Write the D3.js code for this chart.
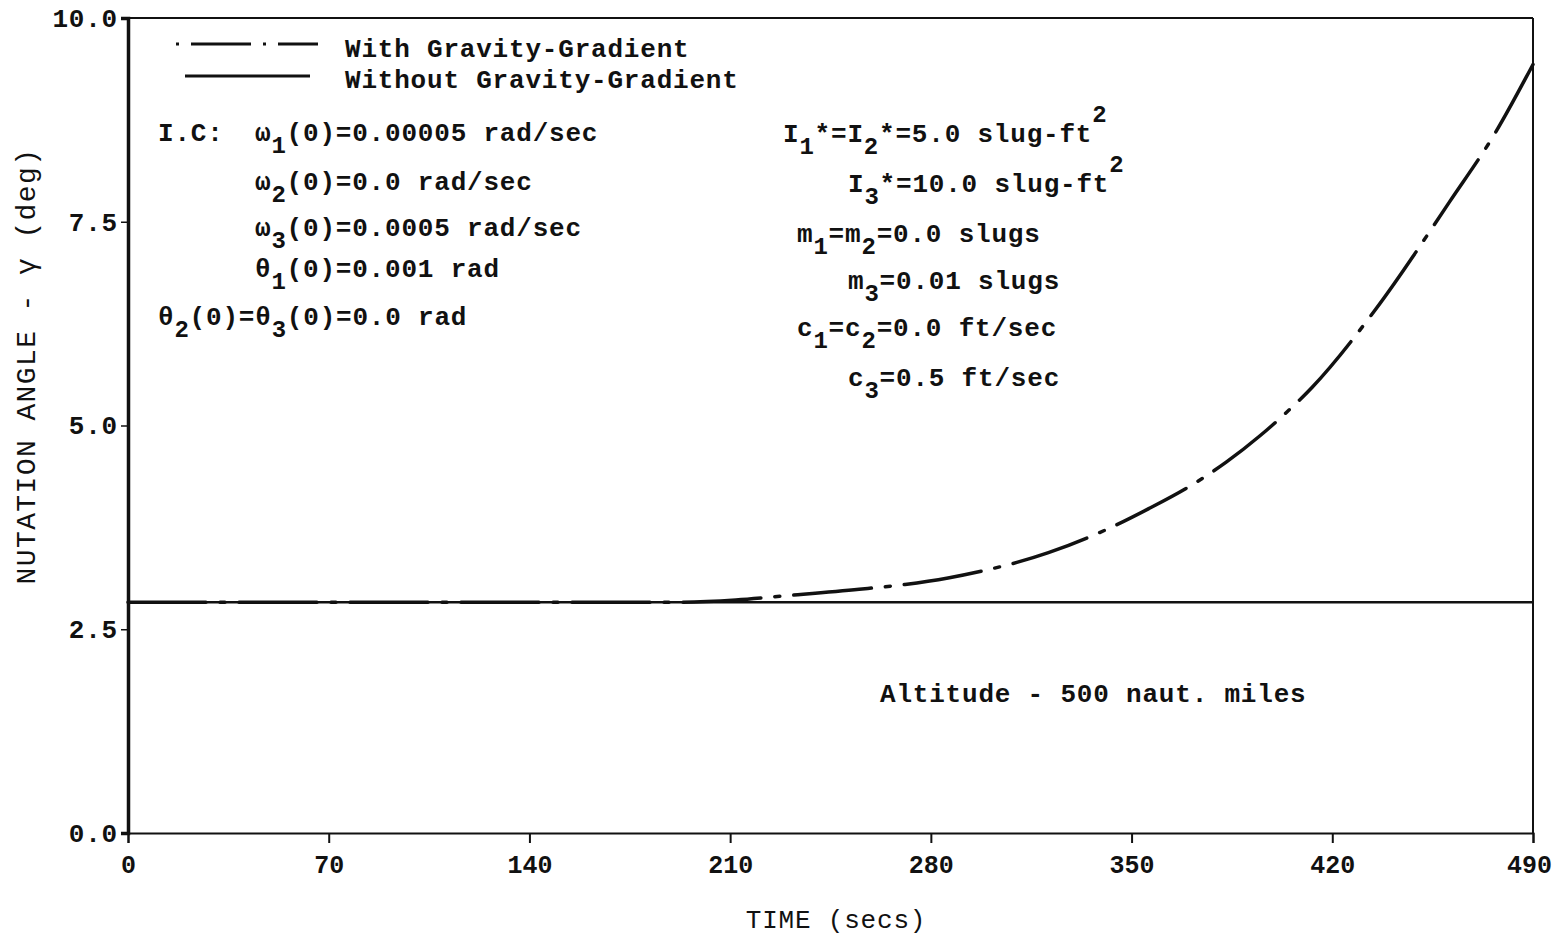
<!DOCTYPE html>
<html>
<head>
<meta charset="utf-8">
<script src="https://cdn.jsdelivr.net/npm/d3@7"></script>
<style>
  body { margin: 0; background: #fff; }
  svg text { font-family: "Liberation Mono", "Courier New", monospace; fill: #111; }
  .lbl { font-size: 26px; font-weight: bold; letter-spacing: 0.8px; }
  .tk { font-size: 25px; font-weight: bold; }
  .sub { font-size: 24px; }
</style>
</head>
<body>
<div id="chart"></div>
<script>
// chart data
var timeTicks = [0, 70, 140, 210, 280, 350, 420, 490];
var angleTicks = [0, 2.5, 5, 7.5, 10];

// nutation angle without gravity-gradient (flat)
var noGGTime = [0, 490];
var noGGAngle = [2.83, 2.83];

// nutation angle with gravity-gradient
var ggTime = [0, 100, 190, 212, 229, 255, 271, 286, 301, 310, 321, 341, 356, 371, 383, 395, 404, 413, 435, 461, 477, 490];
var ggAngle = [2.83, 2.83, 2.83, 2.86, 2.91, 2.99, 3.05, 3.13, 3.24, 3.32, 3.44, 3.72, 3.98, 4.27, 4.55, 4.88, 5.16, 5.47, 6.42, 7.75, 8.60, 9.43];

// Canvas
var width = 1556;
var height = 936;
var margin = { top: 18, right: 23, bottom: 103, left: 128 };
var plotW = width - margin.left - margin.right;
var plotH = height - margin.top - margin.bottom;

var svg = d3.select("#chart")
  .append("svg")
  .attr("width", width)
  .attr("height", height);

var g = svg.append("g")
  .attr("transform", "translate(" + margin.left + "," + margin.top + ")");

var x = d3.scaleLinear().domain([0, 490]).range([0, plotW]);
var y = d3.scaleLinear().domain([0, 10]).range([plotH, 0]);

// frame (top and right edges)
g.append("line")
  .attr("x1", 0).attr("x2", plotW).attr("y1", 0).attr("y2", 0)
  .attr("stroke", "#111").attr("stroke-width", 2);
g.append("line")
  .attr("x1", plotW).attr("x2", plotW).attr("y1", 0).attr("y2", plotH)
  .attr("stroke", "#111").attr("stroke-width", 2);

// x axis
var xAxis = g.append("g")
  .attr("transform", "translate(0," + plotH + ")")
  .call(d3.axisBottom(x).tickValues(timeTicks).tickSize(10).tickPadding(12).tickFormat(d3.format("d")));
xAxis.attr("font-family", null);
xAxis.select(".domain").attr("stroke", "#111").attr("stroke-width", 2);
xAxis.selectAll(".tick line").attr("stroke", "#111").attr("stroke-width", 2);
xAxis.selectAll("text").attr("class", "tk").attr("font-size", null);
// keep the last label inside the page
xAxis.selectAll(".tick").filter(function(d) { return d === 490; })
  .select("text").attr("dx", -4);

// y axis
var yAxis = g.append("g")
  .call(d3.axisLeft(y).tickValues(angleTicks).tickSize(7).tickPadding(3).tickFormat(d3.format(".1f")));
yAxis.attr("font-family", null);
yAxis.select(".domain").attr("stroke", "#111").attr("stroke-width", 3.5);
yAxis.selectAll(".tick line").attr("stroke", "#111").attr("stroke-width", 1.5);
yAxis.selectAll("text").attr("class", "lbl").attr("font-size", null);

// axis titles
svg.append("text")
  .attr("class", "lbl")
  .attr("x", 836).attr("y", 928)
  .attr("text-anchor", "middle")
  .style("font-weight", "normal")
  .text("TIME (secs)");

svg.append("text")
  .attr("transform", "translate(35," + 366 + ")rotate(-90)")
  .attr("text-anchor", "middle")
  .style("font-size", "28px")
  .style("letter-spacing", "1.4px")
  .text("NUTATION ANGLE - \u03b3 (deg)");

// lines
var line = d3.line()
  .x(function(d) { return x(d[0]); })
  .y(function(d) { return y(d[1]); })
  .curve(d3.curveMonotoneX);

var noGG = noGGTime.map(function(t, i) { return [t, noGGAngle[i]]; });
var withGG = ggTime.map(function(t, i) { return [t, ggAngle[i]]; });

g.append("path")
  .datum(noGG)
  .attr("d", line)
  .attr("fill", "none")
  .attr("stroke", "#111")
  .attr("stroke-width", 2.5);

var dashDot = "78 14 5 14";
g.append("path")
  .datum(withGG)
  .attr("d", line)
  .attr("fill", "none")
  .attr("stroke", "#111")
  .attr("stroke-width", 3.5)
  .attr("stroke-linecap", "round")
  .attr("stroke-dasharray", dashDot);

// legend
var legend = svg.append("g");
legend.append("line")
  .attr("x1", 176).attr("x2", 318).attr("y1", 44).attr("y2", 44)
  .attr("stroke", "#111").attr("stroke-width", 3)
  .attr("stroke-dasharray", "3 12 60 12 3 12 50");
legend.append("text").attr("class", "lbl").attr("x", 345).attr("y", 57).text("With Gravity-Gradient");
legend.append("line")
  .attr("x1", 185).attr("x2", 310).attr("y1", 76).attr("y2", 76)
  .attr("stroke", "#111").attr("stroke-width", 3);
legend.append("text").attr("class", "lbl").attr("x", 345).attr("y", 88).text("Without Gravity-Gradient");

// annotation helper: parts are [text, kind] where kind is "", "sub" or "sup"
function note(px, py, parts) {
  var t = svg.append("text").attr("class", "lbl").attr("x", px).attr("y", py);
  var shift = 0;
  parts.forEach(function(p) {
    var target = p[1] === "sub" ? 12 : p[1] === "sup" ? -20 : 0;
    var ts = t.append("tspan").attr("dy", target - shift).text(p[0]);
    if (p[1]) ts.attr("class", "sub");
    shift = target;
  });
}

note(158, 141, [["I.C:", ""]]);
note(255, 141, [["\u03c9", ""], ["1", "sub"], ["(0)=0.00005 rad/sec", ""]]);
note(255, 190, [["\u03c9", ""], ["2", "sub"], ["(0)=0.0 rad/sec", ""]]);
note(255, 236, [["\u03c9", ""], ["3", "sub"], ["(0)=0.0005 rad/sec", ""]]);
note(255, 277, [["\u03b8", ""], ["1", "sub"], ["(0)=0.001 rad", ""]]);
note(158, 325, [["\u03b8", ""], ["2", "sub"], ["(0)=\u03b8", ""], ["3", "sub"], ["(0)=0.0 rad", ""]]);

note(783, 142, [["I", ""], ["1", "sub"], ["*=I", ""], ["2", "sub"], ["*=5.0 slug-ft", ""], ["2", "sup"]]);
note(848, 192, [["I", ""], ["3", "sub"], ["*=10.0 slug-ft", ""], ["2", "sup"]]);
note(797, 242, [["m", ""], ["1", "sub"], ["=m", ""], ["2", "sub"], ["=0.0 slugs", ""]]);
note(848, 289, [["m", ""], ["3", "sub"], ["=0.01 slugs", ""]]);
note(797, 336, [["c", ""], ["1", "sub"], ["=c", ""], ["2", "sub"], ["=0.0 ft/sec", ""]]);
note(848, 386, [["c", ""], ["3", "sub"], ["=0.5 ft/sec", ""]]);

note(880, 702, [["Altitude - 500 naut. miles", ""]]);
</script>
</body>
</html>
